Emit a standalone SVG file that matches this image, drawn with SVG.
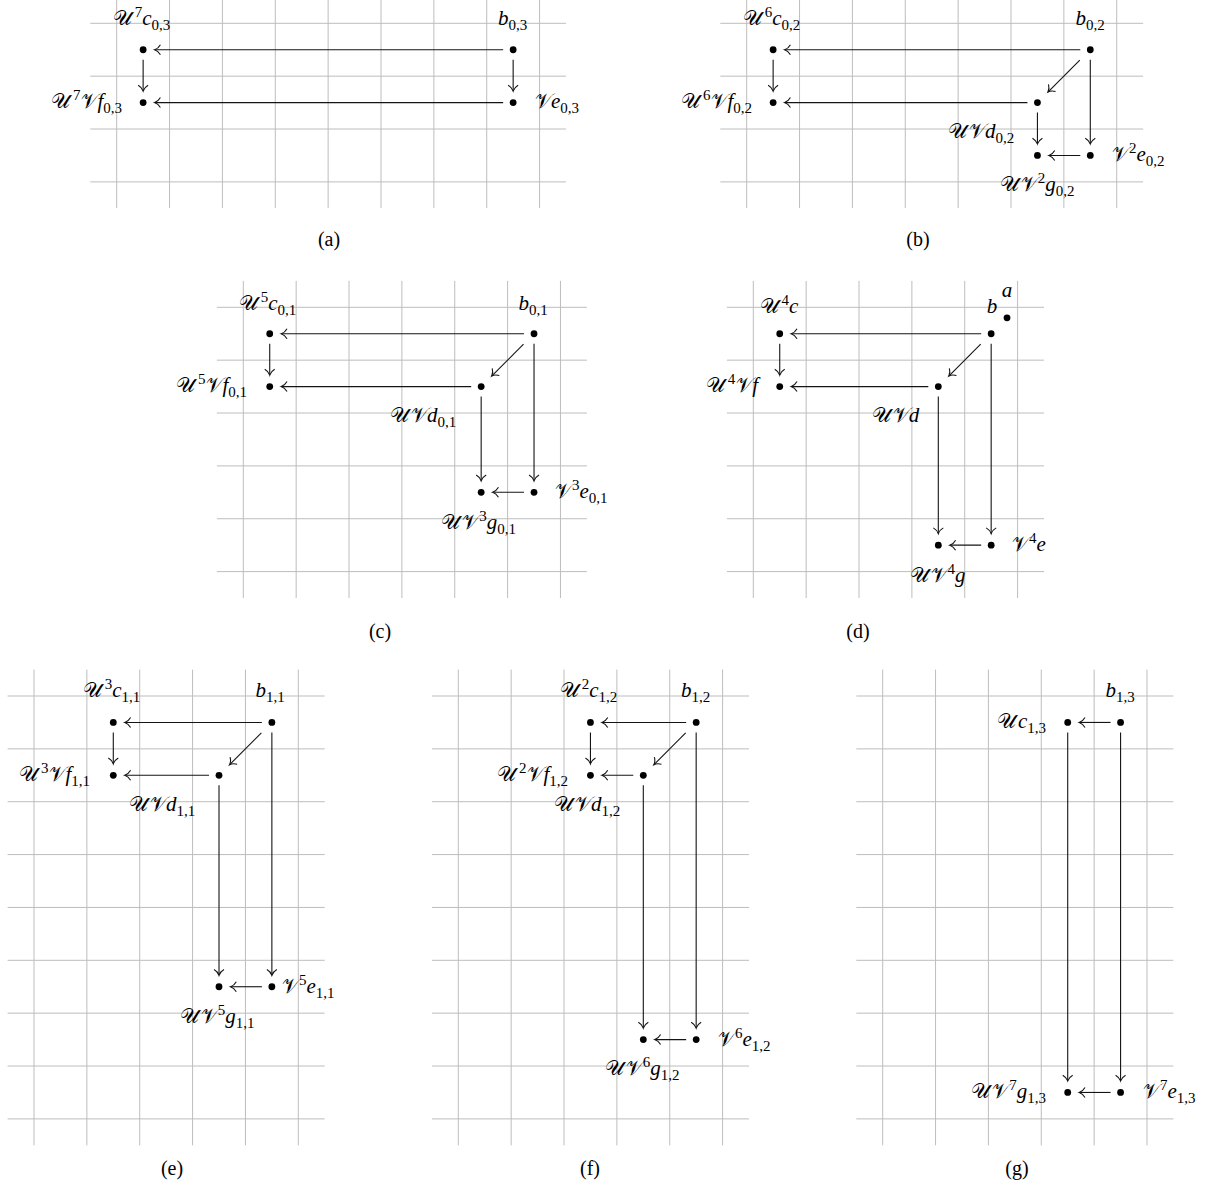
<svg xmlns="http://www.w3.org/2000/svg" width="1217" height="1194" viewBox="0 0 1217 1194">
<style>
.grid{fill:none;stroke:#bdbdbd;stroke-width:1}
.conn line{stroke:#141414;stroke-width:1.1;marker-end:url(#ah)}
.dot{fill:#000}
text{font-family:"Liberation Serif","DejaVu Serif",serif;fill:#000}
.l{font-size:21px;font-style:italic}
.u{font-style:normal}
.n{font-size:15px;font-style:normal}
.cap{font-size:20px}
</style>
<defs>
<marker id="ah" markerUnits="userSpaceOnUse" viewBox="-7 -6 8 12" markerWidth="8" markerHeight="12" refX="0" refY="0" orient="auto" overflow="visible">
<path d="M-5.8,-5 C-4.2,-2.2 -2,-0.6 0,0 C-2,0.6 -4.2,2.2 -5.8,5" fill="none" stroke="#141414" stroke-width="1.1"/>
</marker>
</defs>
<rect width="1217" height="1194" fill="#fff"/>

<g id="grids">
<path class="grid" d="M116.7 0V208M169.56 0V208M222.42 0V208M275.28 0V208M328.14 0V208M381 0V208M433.86 0V208M486.72 0V208M539.58 0V208M90.3 23.3H566M90.3 76.16H566M90.3 129.02H566M90.3 181.88H566"/>
<path class="grid" d="M746.7 0V208M799.56 0V208M852.42 0V208M905.28 0V208M958.14 0V208M1011 0V208M1063.86 0V208M1116.72 0V208M720.3 23.3H1143.1M720.3 76.16H1143.1M720.3 129.02H1143.1M720.3 181.88H1143.1"/>
<path class="grid" d="M243.3 280.9V598M296.16 280.9V598M349.02 280.9V598M401.88 280.9V598M454.74 280.9V598M507.6 280.9V598M560.46 280.9V598M216.9 307.3H586.9M216.9 360.16H586.9M216.9 413.02H586.9M216.9 465.88H586.9M216.9 518.74H586.9M216.9 571.6H586.9"/>
<path class="grid" d="M753.3 280.9V598M806.16 280.9V598M859.02 280.9V598M911.88 280.9V598M964.74 280.9V598M1017.6 280.9V598M726.9 307.3H1044M726.9 360.16H1044M726.9 413.02H1044M726.9 465.88H1044M726.9 518.74H1044M726.9 571.6H1044"/>
<path class="grid" d="M34 669.6V1145.3M86.86 669.6V1145.3M139.72 669.6V1145.3M192.58 669.6V1145.3M245.44 669.6V1145.3M298.3 669.6V1145.3M7.6 696H324.7M7.6 748.86H324.7M7.6 801.72H324.7M7.6 854.58H324.7M7.6 907.44H324.7M7.6 960.3H324.7M7.6 1013.16H324.7M7.6 1066.02H324.7M7.6 1118.88H324.7"/>
<path class="grid" d="M458.3 669.6V1145.3M511.16 669.6V1145.3M564.02 669.6V1145.3M616.88 669.6V1145.3M669.74 669.6V1145.3M722.6 669.6V1145.3M431.9 696H749M431.9 748.86H749M431.9 801.72H749M431.9 854.58H749M431.9 907.44H749M431.9 960.3H749M431.9 1013.16H749M431.9 1066.02H749M431.9 1118.88H749"/>
<path class="grid" d="M882.7 669.6V1145.3M935.56 669.6V1145.3M988.42 669.6V1145.3M1041.28 669.6V1145.3M1094.14 669.6V1145.3M1147 669.6V1145.3M856.3 696H1173.4M856.3 748.86H1173.4M856.3 801.72H1173.4M856.3 854.58H1173.4M856.3 907.44H1173.4M856.3 960.3H1173.4M856.3 1013.16H1173.4M856.3 1066.02H1173.4M856.3 1118.88H1173.4"/>
</g>

<g id="connectors" class="conn">
<line x1="503.15" y1="49.73" x2="154.63" y2="49.73"/>
<line x1="503.15" y1="102.59" x2="154.63" y2="102.59"/>
<line x1="143.13" y1="59.73" x2="143.13" y2="91.09"/>
<line x1="513.15" y1="59.73" x2="513.15" y2="91.09"/>
<line x1="1080.29" y1="49.73" x2="784.63" y2="49.73"/>
<line x1="1027.43" y1="102.59" x2="784.63" y2="102.59"/>
<line x1="773.13" y1="59.73" x2="773.13" y2="91.09"/>
<line x1="1079.79" y1="60.23" x2="1047.93" y2="92.09"/>
<line x1="1037.43" y1="112.59" x2="1037.43" y2="143.95"/>
<line x1="1090.29" y1="59.73" x2="1090.29" y2="143.95"/>
<line x1="1080.29" y1="155.45" x2="1048.93" y2="155.45"/>
<line x1="524.03" y1="333.73" x2="281.23" y2="333.73"/>
<line x1="471.17" y1="386.59" x2="281.23" y2="386.59"/>
<line x1="269.73" y1="343.73" x2="269.73" y2="375.09"/>
<line x1="523.53" y1="344.23" x2="491.67" y2="376.09"/>
<line x1="481.17" y1="396.59" x2="481.17" y2="480.81"/>
<line x1="534.03" y1="343.73" x2="534.03" y2="480.81"/>
<line x1="524.03" y1="492.31" x2="492.67" y2="492.31"/>
<line x1="981.17" y1="333.73" x2="791.23" y2="333.73"/>
<line x1="928.31" y1="386.59" x2="791.23" y2="386.59"/>
<line x1="779.73" y1="343.73" x2="779.73" y2="375.09"/>
<line x1="980.67" y1="344.23" x2="948.81" y2="376.09"/>
<line x1="938.31" y1="396.59" x2="938.31" y2="533.67"/>
<line x1="991.17" y1="343.73" x2="991.17" y2="533.67"/>
<line x1="981.17" y1="545.17" x2="949.81" y2="545.17"/>
<line x1="261.87" y1="722.43" x2="124.79" y2="722.43"/>
<line x1="209.01" y1="775.29" x2="124.79" y2="775.29"/>
<line x1="113.29" y1="732.43" x2="113.29" y2="763.79"/>
<line x1="261.37" y1="732.93" x2="229.51" y2="764.79"/>
<line x1="219.01" y1="785.29" x2="219.01" y2="975.23"/>
<line x1="271.87" y1="732.43" x2="271.87" y2="975.23"/>
<line x1="261.87" y1="986.73" x2="230.51" y2="986.73"/>
<line x1="686.17" y1="722.43" x2="601.95" y2="722.43"/>
<line x1="633.31" y1="775.29" x2="601.95" y2="775.29"/>
<line x1="590.45" y1="732.43" x2="590.45" y2="763.79"/>
<line x1="685.67" y1="732.93" x2="653.81" y2="764.79"/>
<line x1="643.31" y1="785.29" x2="643.31" y2="1028.09"/>
<line x1="696.17" y1="732.43" x2="696.17" y2="1028.09"/>
<line x1="686.17" y1="1039.59" x2="654.81" y2="1039.59"/>
<line x1="1110.57" y1="722.43" x2="1079.21" y2="722.43"/>
<line x1="1067.71" y1="732.43" x2="1067.71" y2="1080.95"/>
<line x1="1120.57" y1="732.43" x2="1120.57" y2="1080.95"/>
<line x1="1110.57" y1="1092.45" x2="1079.21" y2="1092.45"/>
</g>

<!-- Panel (a) -->
<g id="a-c"><circle class="dot" cx="143.13" cy="49.73" r="3.4"/><text class="l" x="141.5" y="25" text-anchor="middle"><tspan class="u">𝒰</tspan><tspan class="n" dx="3" dy="-8">7</tspan><tspan dy="8">c</tspan><tspan class="n" dy="4.5">0,3</tspan></text></g>
<g id="a-b"><circle class="dot" cx="513.15" cy="49.73" r="3.4"/><text class="l" x="512.5" y="25" text-anchor="middle">b<tspan class="n" dy="4.5">0,3</tspan></text></g>
<g id="a-f"><circle class="dot" cx="143.13" cy="102.59" r="3.4"/><text class="l" x="122" y="108" text-anchor="end"><tspan class="u">𝒰</tspan><tspan class="n" dx="3" dy="-8">7</tspan><tspan class="u" dx="1" dy="8">𝒱</tspan><tspan dx="-2">f</tspan><tspan class="n" dy="4.5">0,3</tspan></text></g>
<g id="a-e"><circle class="dot" cx="513.15" cy="102.59" r="3.4"/><text class="l" x="535" y="108"><tspan class="u">𝒱</tspan><tspan dx="-2">e</tspan><tspan class="n" dy="4.5">0,3</tspan></text></g>
<text class="cap" x="329" y="246" text-anchor="middle">(a)</text>

<!-- Panel (b) -->
<g id="b-c"><circle class="dot" cx="773.13" cy="49.73" r="3.4"/><text class="l" x="771.5" y="25" text-anchor="middle"><tspan class="u">𝒰</tspan><tspan class="n" dx="3" dy="-8">6</tspan><tspan dy="8">c</tspan><tspan class="n" dy="4.5">0,2</tspan></text></g>
<g id="b-b"><circle class="dot" cx="1090.29" cy="49.73" r="3.4"/><text class="l" x="1090" y="25" text-anchor="middle">b<tspan class="n" dy="4.5">0,2</tspan></text></g>
<g id="b-f"><circle class="dot" cx="773.13" cy="102.59" r="3.4"/><text class="l" x="752" y="108" text-anchor="end"><tspan class="u">𝒰</tspan><tspan class="n" dx="3" dy="-8">6</tspan><tspan class="u" dx="1" dy="8">𝒱</tspan><tspan dx="-2">f</tspan><tspan class="n" dy="4.5">0,2</tspan></text></g>
<g id="b-d"><circle class="dot" cx="1037.43" cy="102.59" r="3.4"/><text class="l" x="981" y="138" text-anchor="middle"><tspan class="u">𝒰</tspan><tspan class="u" dx="2">𝒱</tspan><tspan dx="-2">d</tspan><tspan class="n" dy="4.5">0,2</tspan></text></g>
<g id="b-e"><circle class="dot" cx="1090.29" cy="155.45" r="3.4"/><text class="l" x="1112" y="161"><tspan class="u">𝒱</tspan><tspan class="n" dx="-1" dy="-8">2</tspan><tspan dy="8">e</tspan><tspan class="n" dy="4.5">0,2</tspan></text></g>
<g id="b-g"><circle class="dot" cx="1037.43" cy="155.45" r="3.4"/><text class="l" x="1037" y="191" text-anchor="middle"><tspan class="u">𝒰</tspan><tspan class="u" dx="2">𝒱</tspan><tspan class="n" dx="-1" dy="-8">2</tspan><tspan dy="8">g</tspan><tspan class="n" dy="4.5">0,2</tspan></text></g>
<text class="cap" x="918" y="246" text-anchor="middle">(b)</text>

<!-- Panel (c) -->
<g id="c-c"><circle class="dot" cx="269.73" cy="333.73" r="3.4"/><text class="l" x="267.5" y="310" text-anchor="middle"><tspan class="u">𝒰</tspan><tspan class="n" dx="3" dy="-8">5</tspan><tspan dy="8">c</tspan><tspan class="n" dy="4.5">0,1</tspan></text></g>
<g id="c-b"><circle class="dot" cx="534.03" cy="333.73" r="3.4"/><text class="l" x="533" y="310" text-anchor="middle">b<tspan class="n" dy="4.5">0,1</tspan></text></g>
<g id="c-f"><circle class="dot" cx="269.73" cy="386.59" r="3.4"/><text class="l" x="247" y="392" text-anchor="end"><tspan class="u">𝒰</tspan><tspan class="n" dx="3" dy="-8">5</tspan><tspan class="u" dx="1" dy="8">𝒱</tspan><tspan dx="-2">f</tspan><tspan class="n" dy="4.5">0,1</tspan></text></g>
<g id="c-d"><circle class="dot" cx="481.17" cy="386.59" r="3.4"/><text class="l" x="423" y="422" text-anchor="middle"><tspan class="u">𝒰</tspan><tspan class="u" dx="2">𝒱</tspan><tspan dx="-2">d</tspan><tspan class="n" dy="4.5">0,1</tspan></text></g>
<g id="c-e"><circle class="dot" cx="534.03" cy="492.31" r="3.4"/><text class="l" x="555" y="498"><tspan class="u">𝒱</tspan><tspan class="n" dx="-1" dy="-8">3</tspan><tspan dy="8">e</tspan><tspan class="n" dy="4.5">0,1</tspan></text></g>
<g id="c-g"><circle class="dot" cx="481.17" cy="492.31" r="3.4"/><text class="l" x="478.5" y="529" text-anchor="middle"><tspan class="u">𝒰</tspan><tspan class="u" dx="2">𝒱</tspan><tspan class="n" dx="-1" dy="-8">3</tspan><tspan dy="8">g</tspan><tspan class="n" dy="4.5">0,1</tspan></text></g>
<text class="cap" x="380" y="638" text-anchor="middle">(c)</text>

<!-- Panel (d) -->
<g id="d-a"><circle class="dot" cx="1007.03" cy="317.87" r="3.4"/><text class="l" x="1007" y="297" text-anchor="middle">a</text></g>
<g id="d-c"><circle class="dot" cx="779.73" cy="333.73" r="3.4"/><text class="l" x="779" y="313" text-anchor="middle"><tspan class="u">𝒰</tspan><tspan class="n" dx="3" dy="-8">4</tspan><tspan dy="8">c</tspan></text></g>
<g id="d-b"><circle class="dot" cx="991.17" cy="333.73" r="3.4"/><text class="l" x="992" y="313" text-anchor="middle">b</text></g>
<g id="d-f"><circle class="dot" cx="779.73" cy="386.59" r="3.4"/><text class="l" x="758" y="392" text-anchor="end"><tspan class="u">𝒰</tspan><tspan class="n" dx="3" dy="-8">4</tspan><tspan class="u" dx="1" dy="8">𝒱</tspan><tspan dx="-2">f</tspan></text></g>
<g id="d-d"><circle class="dot" cx="938.31" cy="386.59" r="3.4"/><text class="l" x="895.5" y="422" text-anchor="middle"><tspan class="u">𝒰</tspan><tspan class="u" dx="2">𝒱</tspan><tspan dx="-2">d</tspan></text></g>
<g id="d-e"><circle class="dot" cx="991.17" cy="545.17" r="3.4"/><text class="l" x="1012" y="551"><tspan class="u">𝒱</tspan><tspan class="n" dx="-1" dy="-8">4</tspan><tspan dy="8">e</tspan></text></g>
<g id="d-g"><circle class="dot" cx="938.31" cy="545.17" r="3.4"/><text class="l" x="937.5" y="582" text-anchor="middle"><tspan class="u">𝒰</tspan><tspan class="u" dx="2">𝒱</tspan><tspan class="n" dx="-1" dy="-8">4</tspan><tspan dy="8">g</tspan></text></g>
<text class="cap" x="858" y="638" text-anchor="middle">(d)</text>

<!-- Panel (e) -->
<g id="e-c"><circle class="dot" cx="113.29" cy="722.43" r="3.4"/><text class="l" x="111.5" y="697" text-anchor="middle"><tspan class="u">𝒰</tspan><tspan class="n" dx="3" dy="-8">3</tspan><tspan dy="8">c</tspan><tspan class="n" dy="4.5">1,1</tspan></text></g>
<g id="e-b"><circle class="dot" cx="271.87" cy="722.43" r="3.4"/><text class="l" x="270" y="697" text-anchor="middle">b<tspan class="n" dy="4.5">1,1</tspan></text></g>
<g id="e-f"><circle class="dot" cx="113.29" cy="775.29" r="3.4"/><text class="l" x="90" y="781" text-anchor="end"><tspan class="u">𝒰</tspan><tspan class="n" dx="3" dy="-8">3</tspan><tspan class="u" dx="1" dy="8">𝒱</tspan><tspan dx="-2">f</tspan><tspan class="n" dy="4.5">1,1</tspan></text></g>
<g id="e-d"><circle class="dot" cx="219.01" cy="775.29" r="3.4"/><text class="l" x="162" y="811" text-anchor="middle"><tspan class="u">𝒰</tspan><tspan class="u" dx="2">𝒱</tspan><tspan dx="-2">d</tspan><tspan class="n" dy="4.5">1,1</tspan></text></g>
<g id="e-e"><circle class="dot" cx="271.87" cy="986.73" r="3.4"/><text class="l" x="282" y="993"><tspan class="u">𝒱</tspan><tspan class="n" dx="-1" dy="-8">5</tspan><tspan dy="8">e</tspan><tspan class="n" dy="4.5">1,1</tspan></text></g>
<g id="e-g"><circle class="dot" cx="219.01" cy="986.73" r="3.4"/><text class="l" x="217" y="1023" text-anchor="middle"><tspan class="u">𝒰</tspan><tspan class="u" dx="2">𝒱</tspan><tspan class="n" dx="-1" dy="-8">5</tspan><tspan dy="8">g</tspan><tspan class="n" dy="4.5">1,1</tspan></text></g>
<text class="cap" x="172" y="1175" text-anchor="middle">(e)</text>

<!-- Panel (f) -->
<g id="f-c"><circle class="dot" cx="590.45" cy="722.43" r="3.4"/><text class="l" x="588.5" y="697" text-anchor="middle"><tspan class="u">𝒰</tspan><tspan class="n" dx="3" dy="-8">2</tspan><tspan dy="8">c</tspan><tspan class="n" dy="4.5">1,2</tspan></text></g>
<g id="f-b"><circle class="dot" cx="696.17" cy="722.43" r="3.4"/><text class="l" x="695.5" y="697" text-anchor="middle">b<tspan class="n" dy="4.5">1,2</tspan></text></g>
<g id="f-f"><circle class="dot" cx="590.45" cy="775.29" r="3.4"/><text class="l" x="568" y="781" text-anchor="end"><tspan class="u">𝒰</tspan><tspan class="n" dx="3" dy="-8">2</tspan><tspan class="u" dx="1" dy="8">𝒱</tspan><tspan dx="-2">f</tspan><tspan class="n" dy="4.5">1,2</tspan></text></g>
<g id="f-d"><circle class="dot" cx="643.31" cy="775.29" r="3.4"/><text class="l" x="587" y="811" text-anchor="middle"><tspan class="u">𝒰</tspan><tspan class="u" dx="2">𝒱</tspan><tspan dx="-2">d</tspan><tspan class="n" dy="4.5">1,2</tspan></text></g>
<g id="f-e"><circle class="dot" cx="696.17" cy="1039.59" r="3.4"/><text class="l" x="718" y="1046"><tspan class="u">𝒱</tspan><tspan class="n" dx="-1" dy="-8">6</tspan><tspan dy="8">e</tspan><tspan class="n" dy="4.5">1,2</tspan></text></g>
<g id="f-g"><circle class="dot" cx="643.31" cy="1039.59" r="3.4"/><text class="l" x="642" y="1075" text-anchor="middle"><tspan class="u">𝒰</tspan><tspan class="u" dx="2">𝒱</tspan><tspan class="n" dx="-1" dy="-8">6</tspan><tspan dy="8">g</tspan><tspan class="n" dy="4.5">1,2</tspan></text></g>
<text class="cap" x="590" y="1175" text-anchor="middle">(f)</text>

<!-- Panel (g) -->
<g id="g-b"><circle class="dot" cx="1120.57" cy="722.43" r="3.4"/><text class="l" x="1120" y="697" text-anchor="middle">b<tspan class="n" dy="4.5">1,3</tspan></text></g>
<g id="g-c"><circle class="dot" cx="1067.71" cy="722.43" r="3.4"/><text class="l" x="1046" y="728" text-anchor="end"><tspan class="u">𝒰</tspan><tspan dx="2">c</tspan><tspan class="n" dy="4.5">1,3</tspan></text></g>
<g id="g-g"><circle class="dot" cx="1067.71" cy="1092.45" r="3.4"/><text class="l" x="1046" y="1098" text-anchor="end"><tspan class="u">𝒰</tspan><tspan class="u" dx="2">𝒱</tspan><tspan class="n" dx="-1" dy="-8">7</tspan><tspan dy="8">g</tspan><tspan class="n" dy="4.5">1,3</tspan></text></g>
<g id="g-e"><circle class="dot" cx="1120.57" cy="1092.45" r="3.4"/><text class="l" x="1143" y="1098"><tspan class="u">𝒱</tspan><tspan class="n" dx="-1" dy="-8">7</tspan><tspan dy="8">e</tspan><tspan class="n" dy="4.5">1,3</tspan></text></g>
<text class="cap" x="1017" y="1175" text-anchor="middle">(g)</text>
</svg>
